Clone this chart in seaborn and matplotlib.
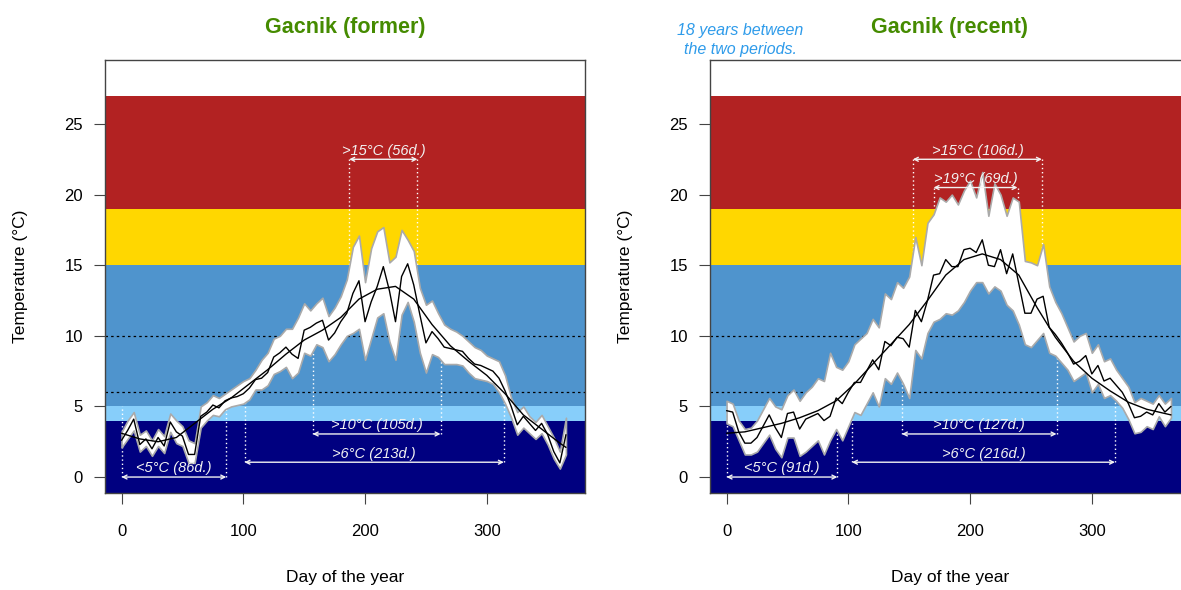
import numpy as np
import matplotlib
matplotlib.use("Agg")
import matplotlib.pyplot as plt
import seaborn as sns

# days sampled every 5 days, smooth curve every 15 days
days = list(range(0, 366, 5))
smooth_days = list(range(0, 361, 15)) + [365]

# former period
former_mean = [2.6, 3.3, 4.1, 2.3, 2.7, 2.0, 2.8, 2.2, 3.9, 3.2, 2.9, 1.6, 1.6, 4.3, 4.6,
               5.1, 4.9, 5.4, 5.6, 5.7, 5.9, 6.3, 6.9, 7.0, 7.4, 8.5, 8.8, 9.2, 8.7, 8.4,
               10.4, 10.6, 10.9, 11.1, 9.7, 10.2, 11.0, 11.6, 13.0, 13.9, 11.0, 12.4, 13.5,
               14.9, 13.2, 11.0, 14.2, 15.1, 13.6, 11.5, 9.5, 10.3, 9.8, 9.2, 9.1, 9.0, 8.9,
               8.4, 8.0, 7.9, 7.7, 7.5, 7.0, 6.1, 5.0, 3.7, 4.3, 3.8, 3.3, 3.8, 3.0, 1.8,
               1.0, 3.0]
former_upper = [3.2, 4.0, 4.6, 3.0, 3.3, 2.6, 3.4, 2.9, 4.5, 4.0, 3.6, 2.6, 2.4, 5.0, 5.3,
                5.8, 5.6, 5.9, 6.2, 6.5, 6.8, 7.0, 7.6, 8.3, 8.8, 9.8, 10.0, 10.5, 10.5, 11.3,
                12.3, 11.8, 12.3, 12.7, 11.4, 12.0, 12.8, 14.0, 16.3, 17.1, 13.8, 16.2, 17.4,
                17.7, 15.2, 15.6, 17.5, 16.8, 16.0, 13.4, 12.2, 12.5, 11.6, 10.8, 10.5, 10.3,
                10.0, 9.6, 9.2, 9.0, 8.6, 8.4, 8.2, 7.2, 5.6, 4.6, 5.0, 4.3, 3.9, 4.4, 3.6,
                2.8, 1.8, 4.2]
former_lower = [2.1, 2.7, 3.3, 1.8, 2.2, 1.5, 2.2, 1.7, 3.2, 2.4, 2.2, 1.0, 1.0, 3.5, 4.0,
                4.4, 4.3, 4.8, 5.0, 5.1, 5.2, 5.5, 6.2, 6.2, 6.5, 7.3, 7.5, 7.8, 7.0, 7.4,
                8.8, 8.6, 9.4, 9.2, 8.2, 8.7, 9.4, 10.0, 10.2, 10.5, 8.3, 9.8, 11.3, 11.6,
                9.6, 8.3, 11.5, 12.4, 11.0, 8.8, 7.4, 8.7, 8.5, 8.0, 8.0, 8.0, 7.9, 7.4, 7.0,
                6.9, 6.8, 6.6, 6.0, 5.2, 4.2, 3.0, 3.5, 3.1, 2.7, 3.1, 2.3, 1.3, 0.6, 1.6]
former_smooth = [3.1, 2.7, 2.5, 2.8, 3.8, 4.8, 5.6, 6.6, 7.6, 8.7, 9.7, 10.4, 11.3, 12.6,
                 13.3, 13.5, 12.6, 10.8, 9.3, 8.2, 7.2, 5.9, 4.4, 3.4, 2.4, 2.1]

# recent period
recent_mean = [4.7, 4.6, 3.2, 2.4, 2.4, 2.8, 3.6, 4.4, 3.5, 2.8, 4.5, 4.6, 3.4, 4.1, 4.3,
               4.5, 4.0, 4.3, 5.6, 5.2, 6.0, 6.7, 6.7, 7.5, 8.3, 7.6, 9.6, 9.3, 9.9, 9.8,
               9.2, 11.8, 11.0, 12.5, 14.3, 14.4, 15.4, 14.9, 14.9, 16.1, 16.2, 15.9, 16.8,
               15.0, 14.9, 16.1, 14.4, 15.8, 13.7, 11.6, 11.6, 12.6, 12.8, 10.6, 10.1, 9.5,
               8.8, 8.0, 8.2, 8.6, 7.3, 7.9, 6.8, 7.0, 6.5, 6.0, 5.2, 4.2, 4.3, 4.6, 4.4,
               5.2, 4.6, 5.0]
recent_upper = [5.4, 5.2, 4.0, 3.4, 3.5, 4.0, 4.8, 5.6, 5.0, 4.8, 5.8, 6.2, 5.4, 6.0, 6.4,
                7.0, 6.8, 8.8, 7.8, 7.6, 8.2, 9.4, 9.8, 10.2, 11.2, 10.6, 13.0, 12.6, 13.8,
                13.4, 14.2, 17.0, 15.0, 18.0, 18.6, 19.8, 19.5, 20.0, 19.3, 20.3, 21.0, 19.8,
                21.6, 18.5, 20.8, 20.0, 18.5, 19.8, 19.5, 15.3, 15.2, 15.0, 16.5, 13.5, 12.4,
                11.6, 10.6, 9.6, 10.0, 10.2, 8.8, 9.4, 8.2, 8.4, 7.6, 7.0, 6.4, 5.3, 5.6, 5.4,
                5.2, 5.8, 5.2, 5.6]
recent_lower = [3.8, 3.6, 2.6, 1.6, 1.6, 1.8, 2.4, 3.0, 2.0, 1.4, 2.8, 2.8, 1.5, 1.8, 2.2,
                2.6, 1.6, 2.6, 3.4, 2.6, 3.6, 4.6, 4.4, 5.2, 6.0, 5.0, 7.0, 6.6, 7.4, 6.6,
                5.6, 9.0, 8.4, 10.2, 11.0, 11.2, 11.6, 11.5, 11.8, 12.4, 13.2, 13.8, 13.8,
                13.0, 13.5, 13.2, 12.2, 11.8, 10.8, 9.4, 9.2, 9.7, 10.2, 8.8, 8.6, 8.1, 7.6,
                6.8, 7.1, 7.4, 6.0, 6.6, 5.6, 5.8, 5.4, 4.9, 4.1, 3.1, 3.2, 3.6, 3.4, 4.3,
                3.6, 4.2]
recent_smooth = [3.1, 3.2, 3.5, 3.8, 4.2, 4.7, 5.4, 6.6, 8.0, 9.4, 10.8, 12.5, 14.3, 15.4,
                 15.8, 15.4, 14.3, 12.0, 9.9, 8.2, 7.0, 6.1, 5.3, 4.8, 4.5, 4.4]

# threshold periods: label, first day, last day
former_labels = ["<5°C (86d.)", ">6°C (213d.)", ">10°C (105d.)", ">15°C (56d.)"]
former_start = [0, 101, 157, 187]
former_end = [86, 314, 262, 243]
recent_labels = ["<5°C (91d.)", ">6°C (216d.)", ">10°C (127d.)", ">15°C (106d.)", ">19°C (69d.)"]
recent_start = [0, 103, 144, 153, 170]
recent_end = [91, 319, 271, 259, 239]
threshold = {"<5": 5, ">6": 6, ">10": 10, ">15": 15, ">19": 19}
arrow_y = {"<5": 0.0, ">6": 1.05, ">10": 3.05, ">15": 22.5, ">19": 20.5}

bands = [(-2, 4, "#000080"), (4, 5, "#87CEFA"), (5, 15, "#4F94CD"),
         (15, 19, "#FFD700"), (19, 27, "#B22222")]

sns.set_style("ticks")
plt.rcParams["font.family"] = ["Liberation Sans", "DejaVu Sans"]

fig = plt.figure(figsize=(11.81, 5.90), dpi=100)
ax1 = fig.add_axes([0.0889, 0.1644, 0.4064, 0.7339])
ax2 = fig.add_axes([0.6012, 0.1644, 0.4064, 0.7339])


def draw_panel(ax, title, mean, upper, lower, smooth, labels, starts, ends):
    for lo, hi, col in bands:
        ax.axhspan(lo, hi, color=col, lw=0, zorder=0)
    for h in [6, 10]:
        ax.axhline(h, color="black", ls=(0, (2, 2.5)), lw=0.9, zorder=1)

    # dotted guides from each arrow to its threshold
    for lab, s, e in zip(labels, starts, ends):
        key = lab.split("°")[0]
        y = arrow_y[key]
        top = threshold[key]
        for d in (s, e):
            ax.plot([d, d], [y, top], color="white", ls=(0, (1, 2)), lw=1, zorder=1.5)

    ax.fill_between(days, lower, upper, facecolor="white", edgecolor="#aaaaaa",
                    lw=1.2, zorder=2)
    sns.lineplot(x=days, y=mean, ax=ax, color="black", lw=1.0, zorder=3)
    sns.lineplot(x=smooth_days, y=smooth, ax=ax, color="black", lw=1.0, zorder=3)

    for lab, s, e in zip(labels, starts, ends):
        key = lab.split("°")[0]
        y = arrow_y[key]
        ax.annotate("", xy=(s, y), xytext=(e, y),
                    arrowprops=dict(arrowstyle="<->", color="#f2f2f2", lw=1,
                                    mutation_scale=7, shrinkA=0, shrinkB=0), zorder=4)
        ax.text((s + e) / 2, y + 0.12, lab, color="#f2f2f2", style="italic",
                fontsize=10.5, ha="center", va="bottom", zorder=4)

    ax.set_xlim(-13.6, 380.6)
    ax.set_ylim(-1.13, 29.53)
    ax.set_xticks([0, 100, 200, 300])
    ax.set_yticks([0, 5, 10, 15, 20, 25])
    ax.tick_params(axis="x", length=8, pad=14, labelsize=12, color="#444444",
                   labelcolor="black")
    ax.tick_params(axis="y", length=8, pad=8, labelsize=12, color="#444444",
                   labelcolor="black")
    for sp in ax.spines.values():
        sp.set_visible(True)
        sp.set_color("#444444")
        sp.set_linewidth(1)
    ax.set_xlabel("Day of the year", fontsize=12.5, color="black", va="center")
    ax.xaxis.set_label_coords(0.5, -0.196)
    ax.set_ylabel("Temperature (°C)", fontsize=12.5, color="black", va="center")
    ax.yaxis.set_label_coords(-0.177, 0.5)
    ax.text(0.5, 1.076, title, transform=ax.transAxes, ha="center", va="center",
            fontsize=15.5, fontweight="bold", color="#458B00")


draw_panel(ax1, "Gacnik (former)", former_mean, former_upper, former_lower,
           former_smooth, former_labels, former_start, former_end)
draw_panel(ax2, "Gacnik (recent)", recent_mean, recent_upper, recent_lower,
           recent_smooth, recent_labels, recent_start, recent_end)

fig.text(0.6266, 0.932, "18 years between\nthe two periods.", ha="center", va="center",
         fontsize=11.5, style="italic", color="#2E9BEA", linespacing=1.3)

fig.savefig("out.png", dpi=100)
